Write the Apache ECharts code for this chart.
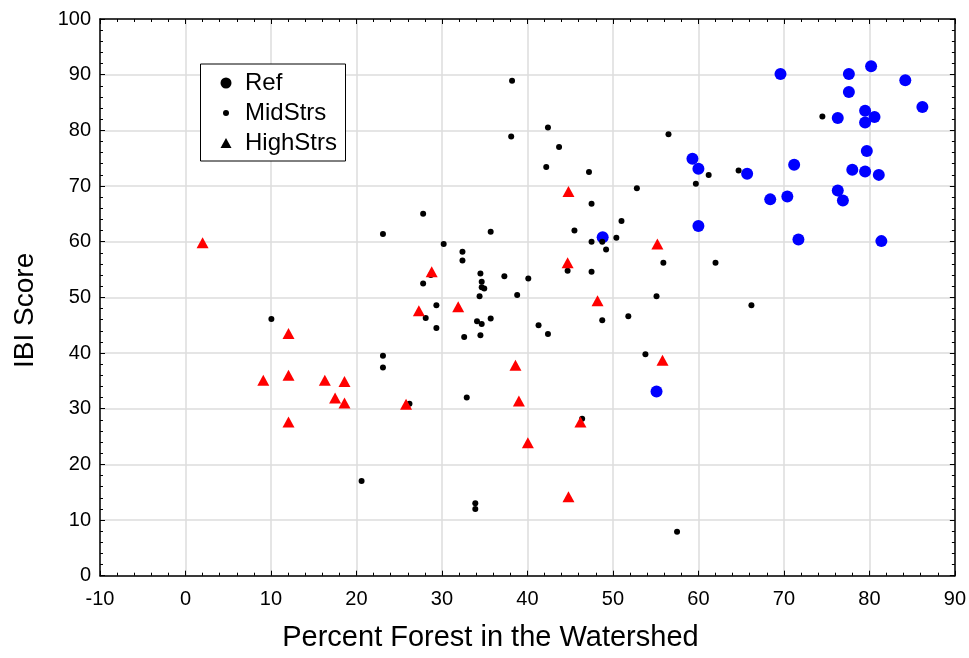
<!DOCTYPE html>
<html>
<head>
<meta charset="utf-8">
<script src="https://cdn.jsdelivr.net/npm/echarts@6/dist/echarts.min.js"></script>
<style>
html,body{margin:0;padding:0;background:#fff;}
#chart{width:969px;height:658px;}
</style>
</head>
<body>
<div id="chart"></div>
<script>
const xTitle = 'Percent Forest in the Watershed';
const yTitle = 'IBI Score';
const seriesNames = ['Ref', 'MidStrs', 'HighStrs'];

const refX = [69.6, 77.6, 80.2, 84.2, 77.6, 86.2, 79.5, 76.3, 80.6, 79.5, 79.7, 59.3, 60.0, 71.2, 78.0, 79.5, 81.1, 65.7, 76.3, 70.4, 68.4, 76.9, 60.0, 71.7, 81.4, 48.8, 55.1];
const refY = [90.1, 90.1, 91.5, 89.0, 86.9, 84.2, 83.5, 82.2, 82.4, 81.4, 76.3, 74.9, 73.1, 73.8, 72.9, 72.6, 72.0, 72.2, 69.2, 68.1, 67.6, 67.4, 62.8, 60.4, 60.1, 60.8, 33.1];

const midX = [74.5, 61.2, 64.7, 59.7, 62.0, 66.2, 57.5, 38.2, 38.1, 42.4, 43.7, 56.5, 42.2, 47.2, 52.8, 47.5, 51.0, 35.7, 45.5, 30.2, 47.5, 48.75, 50.4, 49.2, 32.4, 32.4, 55.9, 44.7, 47.5, 34.5, 37.3, 40.1, 34.65, 34.65, 34.95, 34.4, 38.8, 55.1, 34.1, 34.65, 35.7, 41.3, 48.75, 51.8, 32.6, 34.5, 42.4, 53.8, 23.1, 27.8, 28.7, 29.35, 28.1, 29.35, 10.05, 23.1, 23.1, 32.9, 26.2, 20.6, 46.4, 33.9, 33.9, 27.8];
const midY = [82.5, 72.0, 72.8, 70.4, 56.2, 48.6, 7.9, 88.9, 78.9, 80.5, 77.0, 79.3, 73.4, 72.5, 69.6, 66.8, 63.7, 61.8, 62.0, 59.6, 60.0, 60.0, 60.7, 58.6, 58.2, 56.6, 56.2, 54.8, 54.6, 54.3, 53.8, 53.4, 52.8, 51.8, 51.6, 50.2, 50.4, 50.2, 45.7, 45.2, 46.2, 45.0, 45.9, 46.6, 42.9, 43.2, 43.4, 39.8, 61.4, 52.5, 54.0, 48.6, 46.3, 44.5, 46.1, 39.5, 37.4, 32.0, 30.9, 17.0, 28.2, 13.0, 12.0, 65.0];

const highX = [2.0, 12.05, 9.1, 12.05, 16.3, 18.6, 17.5, 18.6, 12.05, 25.8, 27.3, 31.9, 28.8, 38.6, 39.0, 40.05, 46.2, 44.8, 55.8, 44.7, 48.2, 55.2, 44.8];
const highY = [59.8, 43.5, 35.1, 36.0, 35.1, 34.9, 31.9, 31.0, 27.6, 30.8, 47.6, 48.3, 54.6, 37.8, 31.4, 23.9, 27.6, 14.2, 38.7, 56.2, 49.4, 59.6, 69.0];

function zip(xs, ys) { return xs.map((x, i) => [x, ys[i]]); }

const FONT = "'Liberation Sans', Arial, sans-serif";
const axisLineStyle = { color: '#000', width: 1.5 };

function xAxisCfg(pos, main) {
  return {
    type: 'value', min: -10, max: 90, interval: 10, position: pos,
    axisLine: { show: true, onZero: false, lineStyle: axisLineStyle },
    axisTick: { show: true, inside: true, length: 5, lineStyle: { color: '#000', width: 1 } },
    minorTick: { show: true, splitNumber: 5, length: 3, lineStyle: { color: '#000', width: 1 } },
    splitLine: { show: main, lineStyle: { color: '#dcdcdc', width: 1.5 } },
    minorSplitLine: { show: false },
    axisLabel: { show: main, fontSize: 20, color: '#000', fontFamily: FONT, margin: 14 },
    name: main ? xTitle : '',
    nameLocation: 'middle', nameGap: 48,
    nameTextStyle: { fontSize: 29, color: '#000', fontFamily: FONT, padding: [0, 74, 0, 0] }
  };
}
function yAxisCfg(pos, main) {
  return {
    type: 'value', min: 0, max: 100, interval: 10, position: pos,
    axisLine: { show: true, onZero: false, lineStyle: axisLineStyle },
    axisTick: { show: true, inside: true, length: 5, lineStyle: { color: '#000', width: 1 } },
    minorTick: { show: true, splitNumber: 5, length: 3, lineStyle: { color: '#000', width: 1 } },
    splitLine: { show: main, lineStyle: { color: '#dcdcdc', width: 1.5 } },
    minorSplitLine: { show: false },
    axisLabel: { show: main, fontSize: 20, color: '#000', fontFamily: FONT, margin: 9 },
    name: main ? yTitle : '',
    nameLocation: 'middle', nameGap: 61, nameRotate: 90,
    nameTextStyle: { fontSize: 28, color: '#000', fontFamily: FONT, padding: [0, 26, 0, 0] }
  };
}

function legendCfg(name, icon, w, h, top) {
  return {
    data: [{ name: name, icon: icon, itemStyle: { color: '#000', borderWidth: 0 } }],
    left: 220 + (12 - w) / 2, top: top, padding: 0, z: 5,
    itemWidth: w, itemHeight: h, selectedMode: false,
    textStyle: { fontSize: 24, color: '#000', fontFamily: FONT, padding: [0, 0, 0, 8 + (12 - w) / 2] }
  };
}

const chart = echarts.init(document.getElementById('chart'), null, { renderer: 'canvas' });
chart.setOption({
  animation: false,
  backgroundColor: '#fff',
  grid: { left: 100, right: 13.5, top: 19, bottom: 82.3, containLabel: false },
  xAxis: [xAxisCfg('bottom', true), xAxisCfg('top', false)],
  yAxis: [yAxisCfg('left', true), yAxisCfg('right', false)],
  legend: [
    legendCfg('Ref', 'circle', 11, 11, 71),
    legendCfg('MidStrs', 'circle', 6, 6, 101),
    legendCfg('HighStrs', 'triangle', 11, 10, 131)
  ],
  graphic: [{
    type: 'rect', left: 200, top: 63.5, z: 2,
    shape: { width: 145, height: 97 },
    style: { fill: '#fff', stroke: '#000', lineWidth: 1 }
  }],
  series: [
    { name: seriesNames[0], type: 'scatter', data: zip(refX, refY), symbol: 'circle', symbolSize: 12, itemStyle: { color: '#0000ff', opacity: 1 } },
    { name: seriesNames[1], type: 'scatter', data: zip(midX, midY), symbol: 'circle', symbolSize: 6, itemStyle: { color: '#000', opacity: 1 } },
    { name: seriesNames[2], type: 'scatter', data: zip(highX, highY), symbol: 'triangle', symbolSize: [12, 11], itemStyle: { color: '#ff0000', opacity: 1 } }
  ]
});
</script>
</body>
</html>
